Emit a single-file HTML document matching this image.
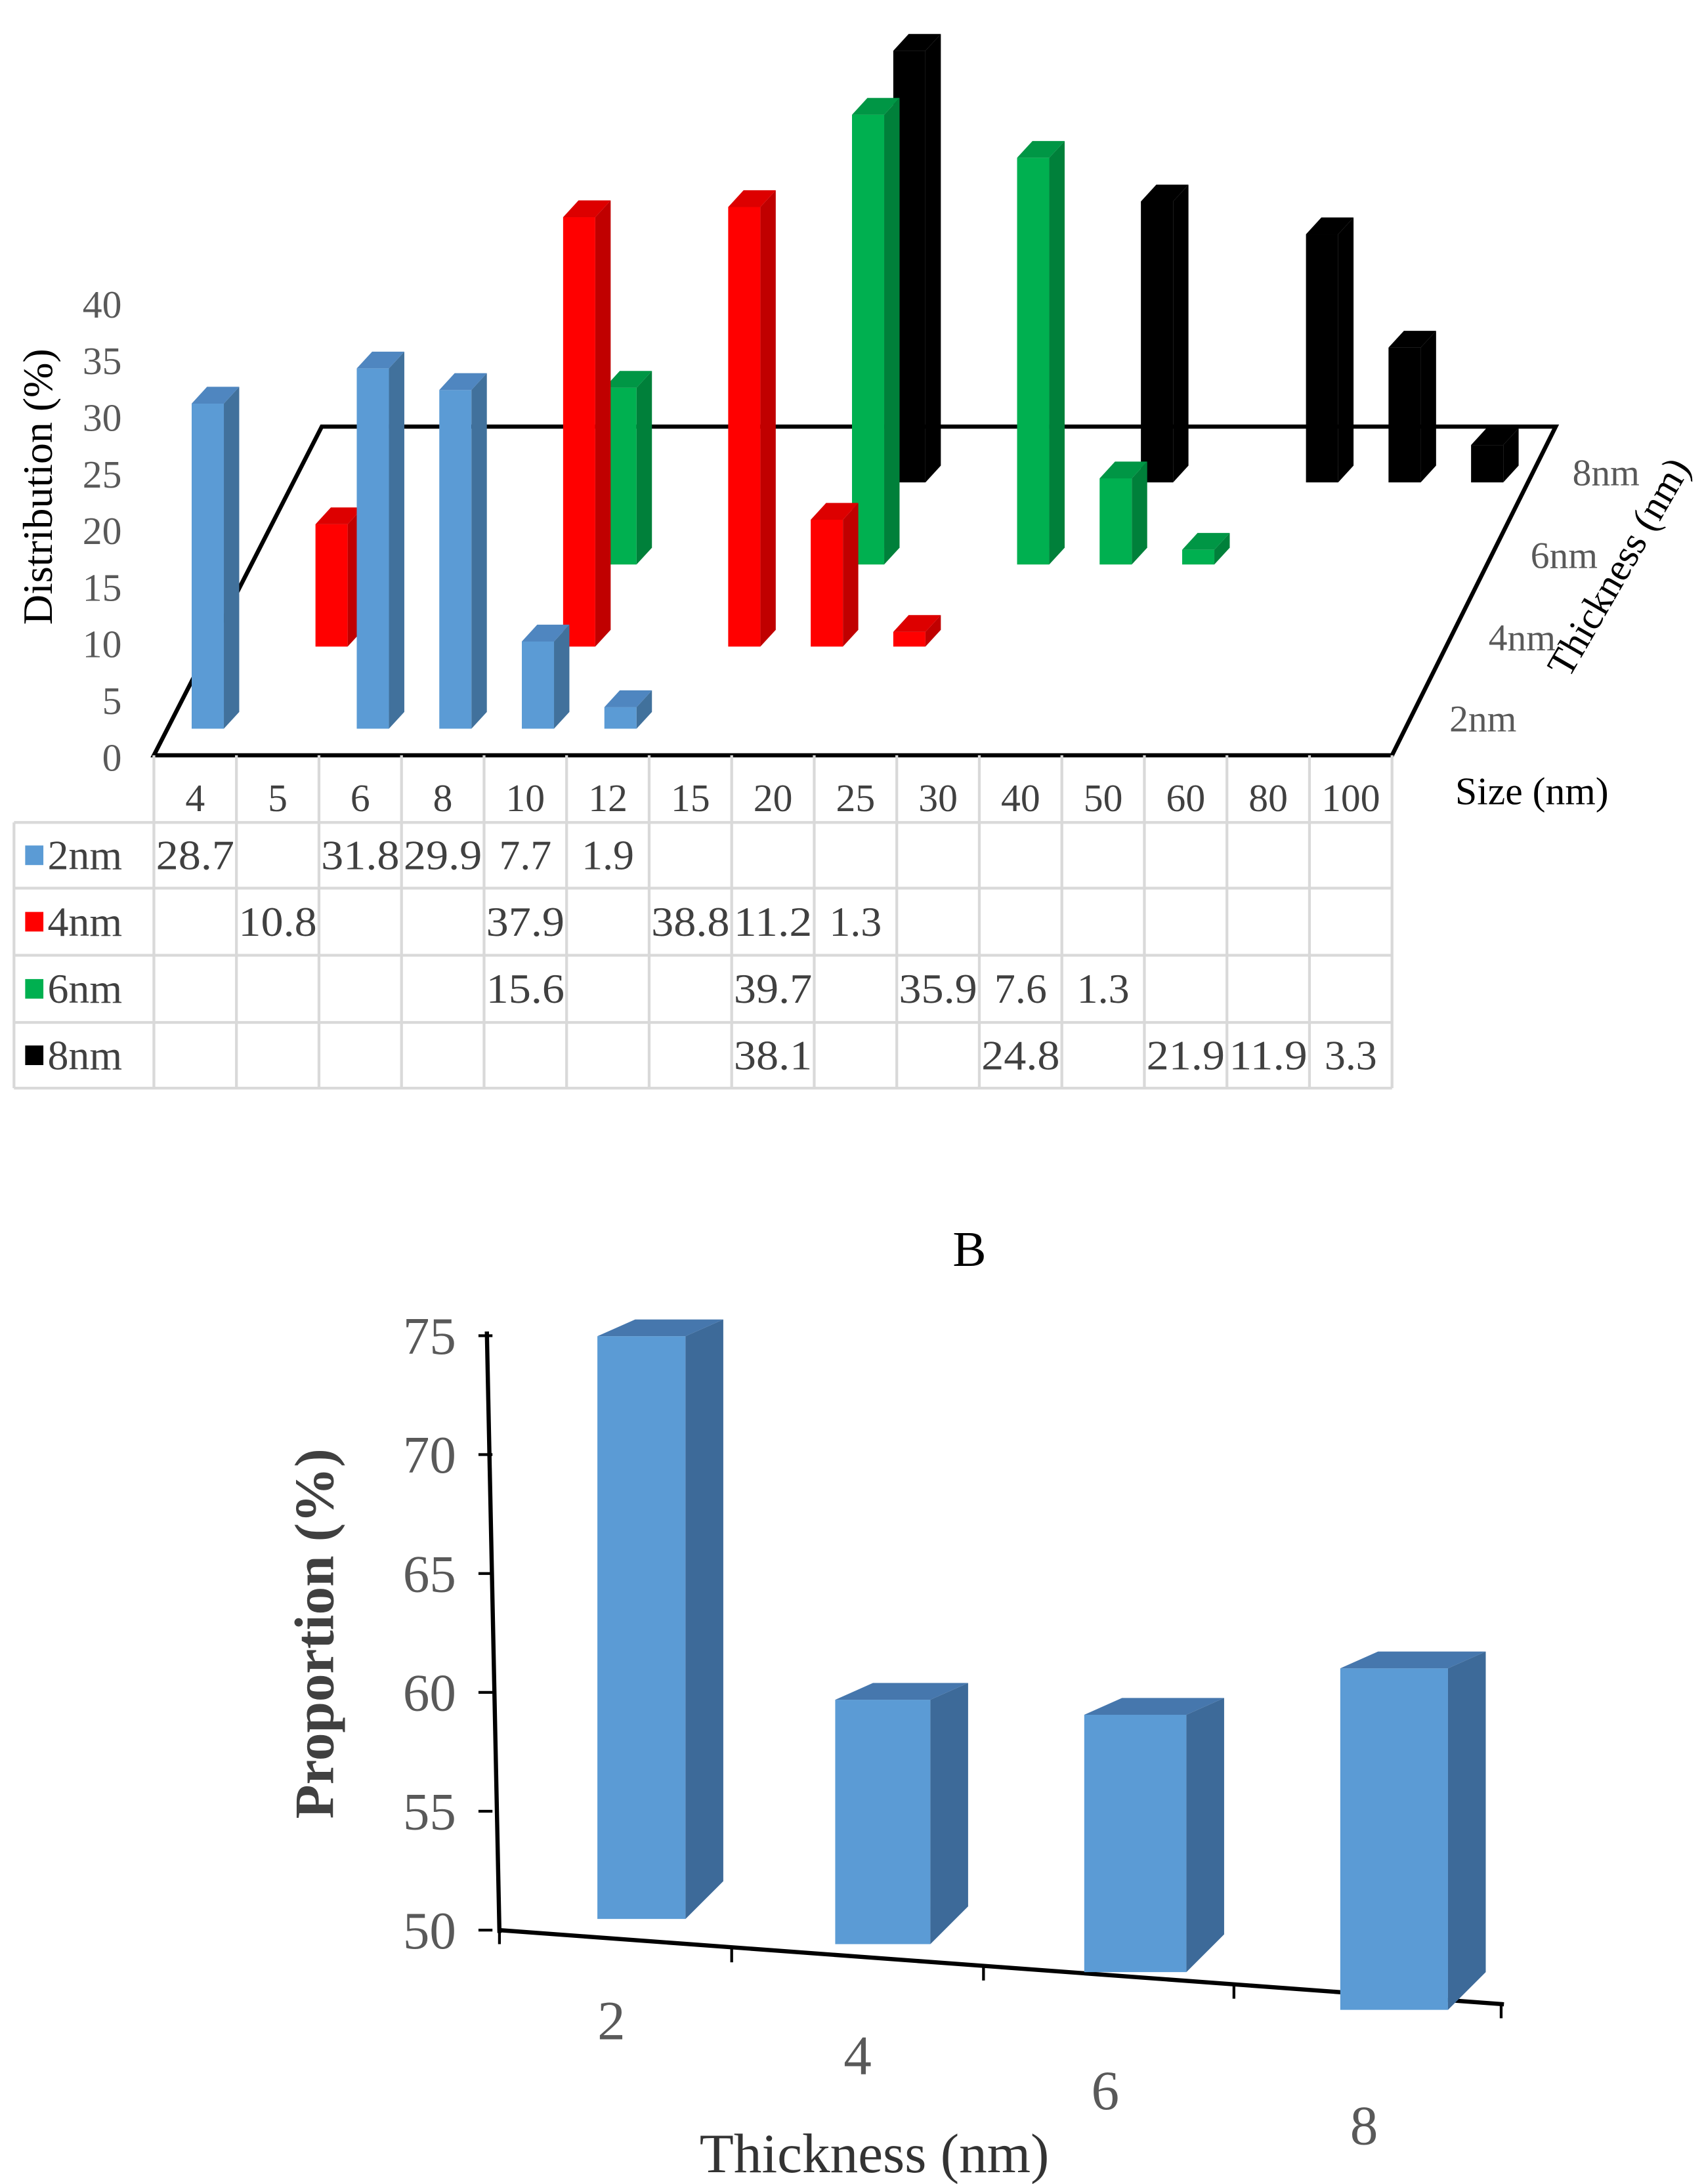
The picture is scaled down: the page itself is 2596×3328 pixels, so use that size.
<!DOCTYPE html>
<html><head><meta charset="utf-8"><style>
html,body{margin:0;padding:0;background:#fff;}
svg{display:block;font-family:"Liberation Serif",serif;}
</style></head><body>
<svg id="s" width="2596" height="3328" viewBox="0 0 1218 1561.5" preserveAspectRatio="none" xmlns="http://www.w3.org/2000/svg">
<g id="topChart"></g>
<g id="botChart"></g>
</svg>
<script>
// ---- Chart A data ----
const sizes = ["4","5","6","8","10","12","15","20","25","30","40","50","60","80","100"];
const seriesNames = ["2nm","4nm","6nm","8nm"];
const s2nm = [28.7,null,31.8,29.9,7.7,1.9,null,null,null,null,null,null,null,null,null];
const s4nm = [null,10.8,null,null,37.9,null,38.8,11.2,1.3,null,null,null,null,null,null];
const s6nm = [null,null,null,null,15.6,null,null,39.7,null,35.9,7.6,1.3,null,null,null];
const s8nm = [null,null,null,null,null,null,null,38.1,null,null,24.8,null,21.9,11.9,3.3];
const yTicksA = [0,5,10,15,20,25,30,35,40];
// ---- Chart B data ----
const thick = ["2","4","6","8"];
const proportion = [74.8,59.6,59.2,61.0];
const yTicksB = [50,55,60,65,70,75];

const NS="http://www.w3.org/2000/svg";
function mk(tag,attrs,parent,text){const e=document.createElementNS(NS,tag);for(const k in attrs)e.setAttribute(k,attrs[k]);if(text!==undefined)e.textContent=text;parent.appendChild(e);return e;}

const topG=document.getElementById('topChart');
const allSeries=[s2nm,s4nm,s6nm,s8nm];
const cols=[["#5b9bd5","#41719c","#4f86c0"],["#ff0000","#c00000","#dd0000"],["#00b050","#00803a","#009645"],["#000000","#000000","#000000"]];
const colW=59, tableL=110;
function yA(v){return 8.1*v;}
let fl=mk('polygon',{points:"230,305 1112,305 995,540 110,540",fill:"none",stroke:"#000","stroke-width":3},topG);


yTicksA.forEach(t=>{let e=mk('text',{x:87,y:541-yA(t)+10,'text-anchor':'end','font-size':28,fill:'#595959'},topG,String(t));

});
let yt=mk('text',{x:0,y:0,'text-anchor':'middle','font-size':30,fill:'#000',transform:'translate(37,348) rotate(-90)'},topG,'Distribution (%)');


for(let r=3;r>=0;r--){
  const base=521-58.7*r;
  allSeries[r].forEach((v,i)=>{
    if(v===null)return;
    const x=tableL+colW*i+27+29.5*r, w=23, dx=11, dy=12, t=base-yA(v);
    const g=mk('g',{},topG);
    
    
    mk('rect',{x:x,y:t,width:w,height:base-t,fill:cols[r][0]},g);
    mk('polygon',{points:`${x+w},${t} ${x+w+dx},${t-dy} ${x+w+dx},${base-dy} ${x+w},${base}`,fill:cols[r][1]},g);
    mk('polygon',{points:`${x},${t} ${x+dx},${t-dy} ${x+w+dx},${t-dy} ${x+w},${t}`,fill:cols[r][2]},g);
  });
}
[[1060,523],[1088,465],[1118,406],[1148,347]].forEach((p,r)=>{let e=mk('text',{x:p[0],y:p[1],'text-anchor':'middle','font-size':27,fill:'#595959'},topG,seriesNames[r]);

});
let dt=mk('text',{x:0,y:0,'text-anchor':'middle','font-size':28,fill:'#000',transform:'translate(1165,410) rotate(-60)'},topG,'Thickness (nm)');


let xt=mk('text',{x:1095,y:575,'text-anchor':'middle','font-size':28,fill:'#000'},topG,'Size (nm)');


const tb=mk('g',{},topG);


const rowsY=[540,588,635,683,731,778];
for(let i=0;i<=15;i++){mk('line',{x1:tableL+colW*i,y1:540,x2:tableL+colW*i,y2:778,stroke:'#d9d9d9','stroke-width':2},tb);}
mk('line',{x1:10,y1:588,x2:10,y2:778,stroke:'#d9d9d9','stroke-width':2},tb);
for(let j=1;j<6;j++){mk('line',{x1:10,y1:rowsY[j],x2:tableL+colW*15,y2:rowsY[j],stroke:'#d9d9d9','stroke-width':2},tb);}
sizes.forEach((s,i)=>{let e=mk('text',{x:tableL+colW*i+colW/2,y:580,'text-anchor':'middle','font-size':28,fill:'#404040'},tb,s);

});
allSeries.forEach((ser,r)=>{
  const cy=(rowsY[r+1]+rowsY[r+2])/2;
  const sq=mk('rect',{x:18,y:cy-7,width:13,height:14,fill:cols[r][0]},tb);
  
  
  let l=mk('text',{x:34,y:cy+10,'font-size':30,fill:'#404040'},tb,seriesNames[r]);
  
  
  ser.forEach((v,i)=>{if(v===null)return;
    const txt=v.toFixed(1);
    const attrs={x:tableL+colW*i+colW/2,y:cy+10,'text-anchor':'middle','font-size':30,fill:'#404040'};
    if(txt.length>3){attrs.textLength=56;attrs.lengthAdjust='spacingAndGlyphs';}
    let e=mk('text',attrs,tb,txt);
    
    });
});

const botG=document.getElementById('botChart');
let bt=mk('text',{x:693,y:905,'text-anchor':'middle','font-size':36,fill:'#000'},botG,'B');


function yB(v){return 1380-(v-50)*17;}
let ax=mk('line',{x1:348,y1:952,x2:357,y2:1382,stroke:'#000','stroke-width':3},botG);


yTicksB.forEach(t=>{const y=yB(t);mk('line',{x1:342,y1:y,x2:352,y2:y,stroke:'#000','stroke-width':2},botG);
let e=mk('text',{x:326,y:y+13,'text-anchor':'end','font-size':38,fill:'#595959'},botG,String(t));

});
let xa=mk('line',{x1:357,y1:1380,x2:1075,y2:1433,stroke:'#000','stroke-width':3},botG);


[[357,1380],[523,1393],[703,1406],[882,1419],[1073,1433]].forEach(p=>mk('line',{x1:p[0],y1:p[1],x2:p[0],y2:p[1]+10,stroke:'#000','stroke-width':2},botG));
const bx=[427,597,775,958], bw=[63,68,73,77], bbase=[1372,1390,1410,1437], bk=[16.8,18.2,20.0,22.2];
const lx=[[437,1458],[613,1483],[790,1508],[975,1533]];
proportion.forEach((v,i)=>{
  const x=bx[i], w=bw[i], base=bbase[i], t=base-(v-50)*bk[i], dx=27, dy=12;
  const g=mk('g',{},botG);
  
  
  mk('rect',{x:x,y:t,width:w,height:base-t,fill:'#5b9bd5'},g);
  mk('polygon',{points:`${x+w},${t} ${x+w+dx},${t-dy} ${x+w+dx},${base-dy-15} ${x+w},${base}`,fill:'#3d6a99'},g);
  mk('polygon',{points:`${x},${t} ${x+dx},${t-dy} ${x+w+dx},${t-dy} ${x+w},${t}`,fill:'#4677ad'},g);
  let e=mk('text',{x:lx[i][0],y:lx[i][1],'text-anchor':'middle','font-size':40,fill:'#595959'},botG,thick[i]);
  
  
});
let bxt=mk('text',{x:625,y:1553,'text-anchor':'middle','font-size':40,fill:'#333'},botG,'Thickness (nm)');


let byt=mk('text',{x:0,y:0,'text-anchor':'middle','font-size':40,'font-weight':'bold',fill:'#404040',transform:'translate(238,1168) rotate(-90)'},botG,'Proportion (%)');


</script>
</body></html>
